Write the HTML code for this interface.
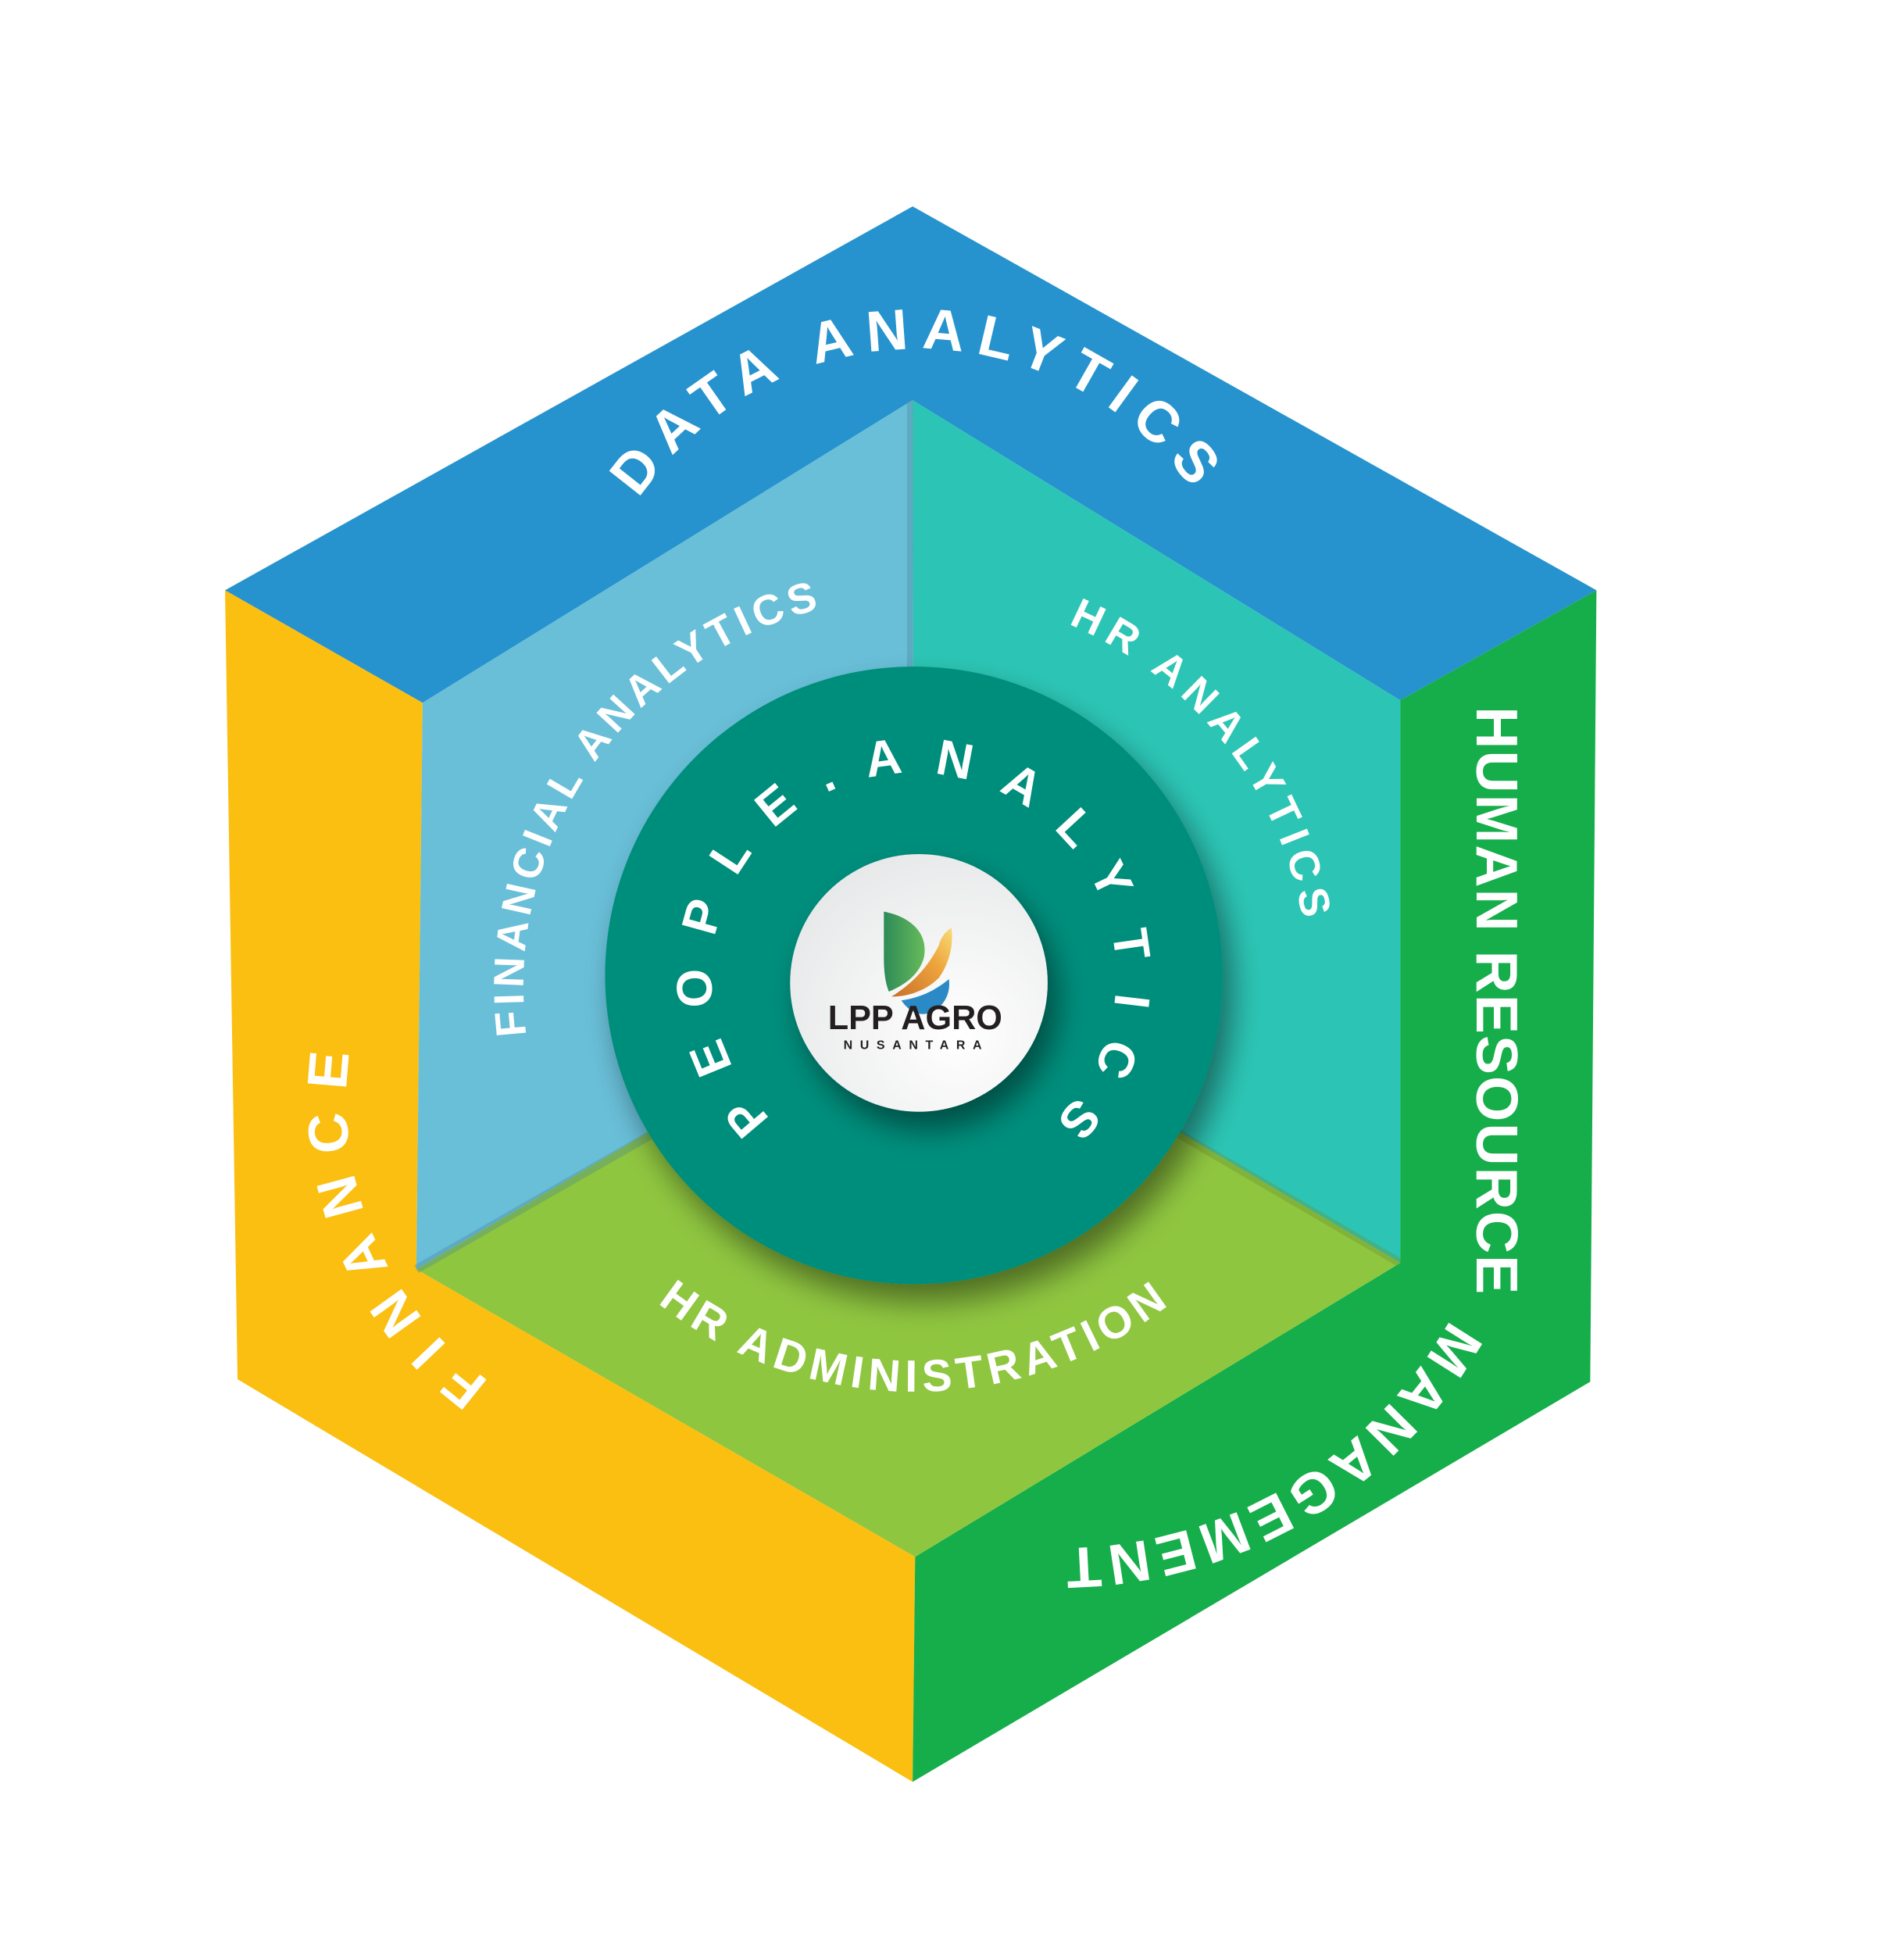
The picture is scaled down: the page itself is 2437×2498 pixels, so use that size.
<!DOCTYPE html>
<html><head><meta charset="utf-8">
<style>
html,body{margin:0;padding:0;background:#fff;}
svg{display:block;}
text{font-family:"Liberation Sans",sans-serif;font-weight:bold;fill:#fff;}
</style></head>
<body>
<svg width="2437" height="2498" viewBox="0 0 1523 1561" xmlns="http://www.w3.org/2000/svg">
<defs>
  <filter id="sh" x="-30%" y="-30%" width="160%" height="160%">
    <feGaussianBlur in="SourceAlpha" stdDeviation="12"/>
    <feOffset dx="8" dy="14"/>
    <feComponentTransfer><feFuncA type="linear" slope="0.45"/></feComponentTransfer>
    <feMerge><feMergeNode/><feMergeNode in="SourceGraphic"/></feMerge>
  </filter>
  <radialGradient id="wg" cx="0.65" cy="0.7" r="0.8">
    <stop offset="0" stop-color="#ffffff"/><stop offset="1" stop-color="#e6e7e8"/>
  </radialGradient>
  <linearGradient id="gl" x1="0" y1="0" x2="1" y2="0">
    <stop offset="0" stop-color="#2e8b57"/><stop offset="1" stop-color="#66bb5a"/>
  </linearGradient>
  <linearGradient id="ol" x1="0" y1="1" x2="1" y2="0">
    <stop offset="0" stop-color="#c8702a"/><stop offset="0.6" stop-color="#eea43c"/><stop offset="1" stop-color="#f8dc78"/>
  </linearGradient>
  <path id="pData" d="M 466 548 A 269 269 0 0 1 1004 548"/>
  <path id="pFin" d="M 421 828 A 312 312 0 0 1 655.5 487"/>
  <path id="pHR" d="M 854.5 499 A 316 316 0 0 1 1042 735"/>
  <path id="pAdm" d="M 526 1042 A 333 333 0 0 0 940.6 1039"/>
  <path id="pPeople" d="M 616.4 894.6 A 162 162 0 1 1 812 920.3"/>
  <path id="pFinance" d="M 391.6 1104.9 A 278 278 0 0 1 279.7 841.3"/>
  <path id="pMgmt" d="M 1160 1055 A 358 358 0 0 1 856 1238"/>
</defs>

<polygon points="730,165 1277,472 1120,560 730,320 338,562 180,472" fill="#2693ce"/>
<polygon points="180,472 338,562 333,1015 732,1245 730,1425 190,1103" fill="#fbbf11"/>
<polygon points="1277,472 1272,1105 730,1425 732,1245 1120,1010 1120,560" fill="#15ae4a"/>

<polygon points="730,320 731,780 333,1015 338,562" fill="#69bfd8"/>
<polygon points="730,320 1120,560 1120,1010 731,780" fill="#2cc5b5"/>
<polygon points="731,780 1120,1010 732,1245 333,1015" fill="#8fc640"/>

<line x1="728" y1="320" x2="728" y2="545" stroke="#4a8fa6" stroke-width="5" opacity="0.4"/>
<line x1="333" y1="1015" x2="525" y2="905" stroke="#3f7f96" stroke-width="7" opacity="0.3"/>
<line x1="940" y1="905" x2="1120" y2="1010" stroke="#6f8f2a" stroke-width="7" opacity="0.35"/>

<circle cx="731" cy="780" r="247" fill="#048e7c" filter="url(#sh)"/>

<circle cx="735" cy="786" r="103" fill="url(#wg)" filter="url(#sh)"/>
<g transform="translate(-17,-4)">
<path d="M724 733 C 745 737, 760 750, 756 770 C 752 784, 740 792, 728 797 C 725 790, 724 780, 724 770 Z" fill="url(#gl)"/>
<path d="M730 801 C 748 790, 760 776, 768 760 C 770 752, 775 748, 778 746 C 780 760, 776 775, 768 786 C 758 796, 744 801, 730 801 Z" fill="url(#ol)"/>
<path d="M738 804 C 752 802, 764 797, 776 787 C 778 800, 770 813, 756 815 C 748 815, 742 810, 738 804 Z" fill="#2b8ac6"/>
</g>
<text x="732" y="823" text-anchor="middle" font-size="27" style="fill:#231f20">LPP AGRO</text>
<text x="733" y="839" text-anchor="middle" font-size="10" letter-spacing="6" style="fill:#231f20">NUSANTARA</text>

<text font-size="46" letter-spacing="10"><textPath href="#pData" startOffset="50%" text-anchor="middle">DATA ANALYTICS</textPath></text>
<text font-size="34"><textPath href="#pFin" textLength="452" lengthAdjust="spacing">FINANCIAL ANALYTICS</textPath></text>
<text font-size="34"><textPath href="#pHR" textLength="314" lengthAdjust="spacing">HR ANALYTICS</textPath></text>
<text font-size="36"><textPath href="#pAdm" textLength="440" lengthAdjust="spacing">HR ADMINISTRATION</textPath></text>
<text font-size="40"><textPath href="#pPeople" textLength="765" lengthAdjust="spacing">PEOPLE.ANALYTICS</textPath></text>
<text font-size="45"><textPath href="#pFinance" textLength="300" lengthAdjust="spacing">FINANCE</textPath></text>
<text font-size="46"><textPath href="#pMgmt" textLength="375" lengthAdjust="spacing">MANAGEMENT</textPath></text>

<text font-size="47" transform="translate(1181,800) rotate(90)" text-anchor="middle" textLength="470" lengthAdjust="spacing">HUMAN RESOURCE</text>
</svg>
</body></html>
